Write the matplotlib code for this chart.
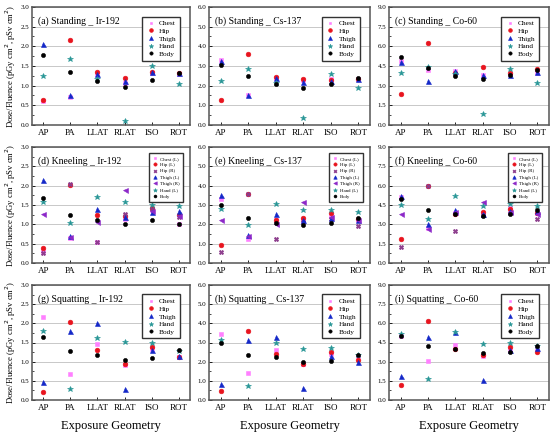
import matplotlib
matplotlib.use('Agg')
import matplotlib.pyplot as plt
from matplotlib.ticker import MultipleLocator, FormatStrFormatter

plt.rcParams['font.family'] = ['Liberation Serif', 'DejaVu Serif']

############### data ################################
geometry = ['AP', 'PA', 'LLAT', 'RLAT', 'ISO', 'ROT']

# standing
stand_ir = {'Chest': [0.62, 0.72, 1.30, 1.08, 1.33, 1.30],
            'Hip':   [0.63, 2.16, 1.35, 1.19, 1.34, 1.31],
            'Thigh': [2.07, 0.77, 1.30, 1.12, 1.34, 1.32],
            'Hand':  [1.24, 1.68, 1.18, 0.11, 1.49, 1.05],
            'Body':  [1.78, 1.35, 1.12, 0.97, 1.14, 1.31]}
stand_cs = {'Chest': [3.30, 1.50, 2.38, 2.30, 2.33, 2.36],
            'Hip':   [1.28, 3.61, 2.42, 2.33, 2.30, 2.33],
            'Thigh': [3.27, 1.52, 2.38, 2.20, 2.25, 2.35],
            'Hand':  [2.25, 2.85, 2.16, 0.34, 2.59, 1.87],
            'Body':  [3.07, 2.49, 2.08, 1.86, 2.11, 2.38]}
stand_co = {'Chest': [4.90, 4.22, 4.14, 3.80, 3.90, 3.95],
            'Hip':   [2.35, 6.24, 4.00, 4.40, 4.00, 4.27],
            'Thigh': [4.78, 3.38, 4.10, 3.84, 3.85, 4.07],
            'Hand':  [3.94, 4.40, 3.90, 0.82, 4.27, 3.20],
            'Body':  [5.17, 4.35, 3.76, 3.50, 3.84, 4.20]}

# kneeling
kneel_ir = {'Chest (L)': [0.30, 0.64, 0.55, 1.15, 1.38, 1.02],
            'Hip (L)':   [0.38, 2.02, 1.23, 1.22, 1.43, 1.23],
            'Hip (R)':   [0.25, 2.05, 0.54, 1.26, 1.40, 1.20],
            'Thigh (L)': [2.15, 0.70, 1.40, 1.18, 1.33, 1.35],
            'Thigh (R)': [1.27, 0.68, 1.05, 1.90, 1.35, 1.22],
            'Hand (L)':  [1.58, 1.04, 1.71, 1.58, 1.49, 1.47],
            'Body':      [1.67, 1.23, 1.10, 1.01, 1.10, 1.01]}
kneel_cs = {'Chest (L)': [3.30, 1.25, 2.20, 2.25, 2.45, 2.20],
            'Hip (L)':   [0.92, 3.56, 2.24, 2.32, 2.58, 2.30],
            'Hip (R)':   [0.59, 3.56, 1.24, 2.10, 2.30, 1.90],
            'Thigh (L)': [3.51, 1.47, 2.51, 2.20, 2.32, 2.22],
            'Thigh (R)': [2.24, 1.42, 2.03, 3.14, 2.38, 2.20],
            'Hand (L)':  [2.77, 1.98, 3.05, 2.75, 2.75, 2.63],
            'Body':      [3.00, 2.32, 2.07, 1.95, 2.08, 2.34]}
kneel_co = {'Chest (L)': [5.10, 2.70, 3.85, 3.90, 4.25, 3.85],
            'Hip (L)':   [1.90, 6.00, 3.80, 3.95, 4.20, 3.90],
            'Hip (R)':   [1.26, 5.98, 2.49, 3.70, 3.90, 3.38],
            'Thigh (L)': [5.23, 3.05, 4.08, 3.77, 4.03, 4.00],
            'Thigh (R)': [3.82, 2.67, 3.95, 4.77, 3.95, 3.82],
            'Hand (L)':  [4.50, 3.44, 5.23, 4.41, 4.59, 4.41],
            'Body':      [4.97, 4.08, 3.77, 3.62, 3.82, 4.08]}

# squatting
squat_ir = {'Chest': [2.16, 0.68, 1.45, 0.92, 1.34, 1.13],
            'Hip':   [0.22, 2.03, 1.30, 0.94, 1.39, 1.12],
            'Thigh': [0.47, 1.80, 2.02, 0.29, 1.30, 1.14],
            'Hand':  [1.80, 0.30, 1.63, 1.51, 1.50, 1.28],
            'Body':  [1.65, 1.28, 1.17, 1.04, 1.09, 1.30]}
squat_cs = {'Chest': [3.43, 1.41, 2.62, 1.88, 2.40, 2.30],
            'Hip':   [0.46, 3.58, 2.40, 1.89, 2.52, 2.09],
            'Thigh': [0.86, 3.12, 3.29, 0.62, 2.32, 1.97],
            'Hand':  [3.12, 0.72, 2.98, 2.64, 2.69, 2.37],
            'Body':  [2.95, 2.37, 2.23, 2.00, 2.06, 2.37]}
squat_co = {'Chest': [5.00, 3.08, 4.34, 3.47, 3.90, 4.10],
            'Hip':   [1.19, 6.15, 3.98, 3.52, 4.11, 3.77],
            'Thigh': [1.84, 4.94, 5.35, 1.53, 3.90, 4.06],
            'Hand':  [5.15, 1.65, 5.30, 4.37, 4.50, 4.24],
            'Body':  [4.99, 4.24, 3.98, 3.67, 3.72, 4.24]}

titles = ['(a) Standing _ Ir-192', '(b) Standing _ Cs-137', '(c) Standing _ Co-60',
          '(d) Kneeling _ Ir-192', '(e) Kneeling _ Cs-137', '(f) Kneeling _ Co-60',
          '(g) Squatting _ Ir-192', '(h) Squatting _ Cs-137', '(i) Squatting _ Co-60']
panels = [stand_ir, stand_cs, stand_co, kneel_ir, kneel_cs, kneel_co, squat_ir, squat_cs, squat_co]
ymax = [3.0, 6.0, 9.0]
ystep = [0.5, 1.0, 1.5]

############### styles ##############################
style = {'Chest': ('s', '#ff80ff', 2.6), 'Chest (L)': ('s', '#ff80ff', 2.6),
         'Hip': ('o', '#e8141e', 3.4), 'Hip (L)': ('o', '#e8141e', 3.4),
         'Hip (R)': ('X', '#8c3c8c', 3.2),
         'Thigh': ('^', '#1428c8', 3.6), 'Thigh (L)': ('^', '#1428c8', 3.6),
         'Thigh (R)': ('<', '#8c28c8', 3.6),
         'Hand': ('*', '#289696', 4.2), 'Hand (L)': ('*', '#289696', 4.2),
         'Body': ('o', 'black', 3.0)}

cols_px = [(32, 190), (209, 370), (389, 549)]
rows_px = [(7, 125), (147, 263), (285, 400)]
W, H = 560, 438

fig = plt.figure(figsize=(5.6, 4.38), dpi=100)
x = list(range(len(geometry)))

for k in range(9):
    r, c = divmod(k, 3)
    x0, x1 = cols_px[c]
    y0, y1 = rows_px[r]
    ax = fig.add_axes([x0 / W, 1 - y1 / H, (x1 - x0) / W, (y1 - y0) / H])
    data = panels[k]
    for name, vals in data.items():
        m, col, ms = style[name]
        ax.plot(x, vals, linestyle='none', marker=m, color=col, markersize=ms,
                markeredgewidth=0.4, label=name, zorder=3)
    top = ymax[c]
    ax.set_ylim(0, top)
    ax.set_xlim(-0.42, 5.42)
    ax.yaxis.set_major_locator(MultipleLocator(ystep[c]))
    ax.yaxis.set_minor_locator(MultipleLocator(ystep[c] / 2))
    ax.yaxis.set_major_formatter(FormatStrFormatter('%.1f'))
    ax.set_xticks(x)
    ax.set_xticklabels(geometry)
    ax.tick_params(axis='both', direction='in', length=2.5, width=0.6, pad=2)
    ax.tick_params(axis='y', labelsize=5)
    ax.tick_params(axis='y', which='minor', direction='in', length=1.5, width=0.5)
    ax.tick_params(axis='x', labelsize=6.5, pad=3)
    ax.grid(axis='y', color='#c8c8c8', linewidth=0.7, zorder=0)
    ax.set_axisbelow(True)
    for s in ax.spines.values():
        s.set_color('#555555')
        s.set_linewidth(1.1)
    ax.text(0.04, 0.88, titles[k], transform=ax.transAxes, fontsize=7, va='center', ha='left')
    if r == 1:
        leg = ax.legend(loc='upper right', fontsize=3.5, handletextpad=0.3, borderpad=0.7,
                        labelspacing=0.4, handlelength=1.2, markerscale=0.7,
                        fancybox=False, framealpha=1, bbox_to_anchor=(0.97, 0.97))
    else:
        leg = ax.legend(loc='upper right', fontsize=5.3, handletextpad=0.5, borderpad=0.5,
                        labelspacing=0.2, handlelength=1.2, markerscale=0.8,
                        fancybox=False, framealpha=1, bbox_to_anchor=(0.96, 0.95))
    leg.get_frame().set_edgecolor('#333333')
    leg.get_frame().set_linewidth(1.0)
    if c == 0:
        ax.set_ylabel('Dose/Fluence (pGy cm$^2$, pSv cm$^2$)', fontsize=6.2, labelpad=2)
    if r == 2:
        ax.set_xlabel('Exposure Geometry', fontsize=9, labelpad=6)

fig.savefig('out.png', dpi=100)
